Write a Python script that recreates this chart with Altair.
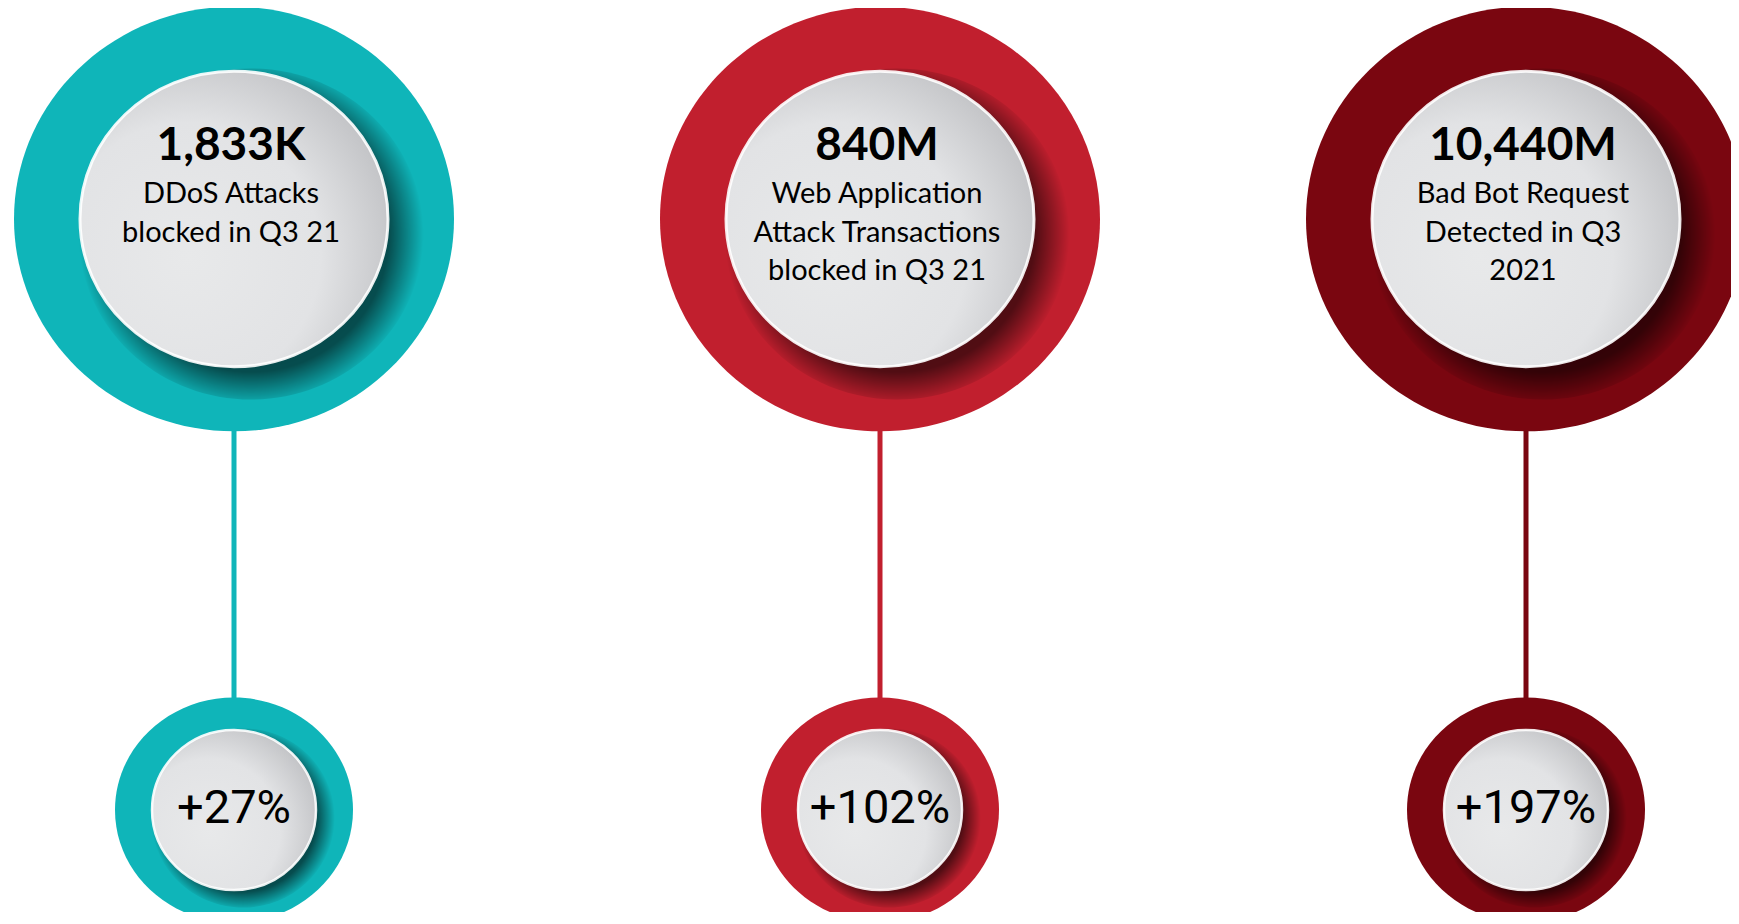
import altair as alt
import pandas as pd

# ---- data ----
metrics = ["DDoS Attacks", "Web Application Attacks", "Bad Bot Requests"]
values = ["1,833K", "840M", "10,440M"]
descs = [
    "DDoS Attacks\nblocked in Q3 21",
    "Web Application\nAttack Transactions\nblocked in Q3 21",
    "Bad Bot Request\nDetected in Q3\n2021",
]
changes = ["+27%", "+102%", "+197%"]
colors = ["#0FB5B9", "#C11F2E", "#7A0610"]
levels = ["main", "change"]

df = pd.DataFrame({"metric": metrics, "value": values, "desc": descs, "change": changes})


def ellipse_path(ry):
    k = 0.5522847498
    return (
        f"M 1 0 C 1 {k*ry:.4f} {k:.4f} {ry} 0 {ry} "
        f"C {-k:.4f} {ry} -1 {k*ry:.4f} -1 0 "
        f"C -1 {-k*ry:.4f} {-k:.4f} {-ry} 0 {-ry} "
        f"C {k:.4f} {-ry} 1 {-k*ry:.4f} 1 0 Z"
    )


xs = alt.X("metric:N", scale=alt.Scale(type="point", domain=metrics, range=[226, 1518], padding=0), axis=None)
yscale = alt.Scale(type="point", domain=levels, range=[211, 802], padding=0)
y_main = alt.Y(datum="main", type="nominal", scale=yscale, axis=None)
y_change = alt.Y(datum="change", type="nominal", scale=yscale, axis=None)
col = alt.Color("metric:N", scale=alt.Scale(domain=metrics, range=colors), legend=None)

base = alt.Chart(df)

shadow_grad = {
    "gradient": "radial",
    "x1": 0.5, "y1": 0.5, "r1": 0,
    "x2": 0.5, "y2": 0.5, "r2": 0.5,
    "stops": [
        {"offset": 0, "color": "rgba(0,0,0,0.65)"},
        {"offset": 0.8, "color": "rgba(0,0,0,0.58)"},
        {"offset": 1, "color": "rgba(0,0,0,0)"},
    ],
}
disk_grad = {
    "gradient": "radial",
    "x1": 0.35, "y1": 0.62, "r1": 0,
    "x2": 0.35, "y2": 0.62, "r2": 0.72,
    "stops": [
        {"offset": 0, "color": "#E8E9EA"},
        {"offset": 0.6, "color": "#E2E3E5"},
        {"offset": 1, "color": "#BFC0C3"},
    ],
}

rule = base.mark_rule(strokeWidth=5).encode(x=xs, y=y_main, y2=alt.Y2(datum="change"), color=col)

big_outer = base.mark_point(shape=ellipse_path(0.965), size=440 ** 2, filled=True, opacity=1).encode(
    x=xs, y=y_main, color=col)
big_shadow = base.mark_point(shape=ellipse_path(0.96), size=(308 * 1.12) ** 2, filled=True, opacity=1,
                             fill=shadow_grad, xOffset=17, yOffset=15).encode(x=xs, y=y_main)
big_disk = base.mark_point(shape=ellipse_path(0.96), size=308 ** 2, filled=True, opacity=1,
                           fill=disk_grad, stroke="#FFFFFF", strokeWidth=3, strokeOpacity=0.9).encode(
    x=xs, y=y_main)

small_outer = base.mark_point(shape=ellipse_path(0.945), size=238 ** 2, filled=True, opacity=1).encode(
    x=xs, y=y_change, color=col)
small_shadow = base.mark_point(shape=ellipse_path(0.975), size=(164 * 1.12) ** 2, filled=True, opacity=1,
                               fill=shadow_grad, xOffset=9, yOffset=8).encode(x=xs, y=y_change)
small_disk = base.mark_point(shape=ellipse_path(0.975), size=164 ** 2, filled=True, opacity=1,
                             fill=disk_grad, stroke="#FFFFFF", strokeWidth=2.5, strokeOpacity=0.9).encode(
    x=xs, y=y_change)

title_txt = base.mark_text(font="Lato", fontWeight="bold", fontSize=46, baseline="alphabetic",
                           dy=-59, dx=-3, color="#000000").encode(x=xs, y=y_main, text="value:N")
desc_txt = base.mark_text(font="Lato", fontSize=29, baseline="alphabetic", lineBreak="\n",
                          lineHeight=38.5, dy=-16, dx=-3, color="#000000").encode(x=xs, y=y_main, text="desc:N")
change_txt = base.mark_text(font="Roboto", fontSize=47, baseline="alphabetic", dy=13,
                            color="#000000").encode(x=xs, y=y_change, text="change:N")

chart = alt.layer(
    rule, big_outer, big_shadow, big_disk, small_outer, small_shadow, small_disk,
    title_txt, desc_txt, change_txt,
).properties(
    width=1723, height=904, autosize=alt.AutoSizeParams(type="none"), padding=0, background="#FFFFFF"
).configure_view(stroke=None)

chart.save("out.html", embed_options={"renderer": "svg", "actions": False})
